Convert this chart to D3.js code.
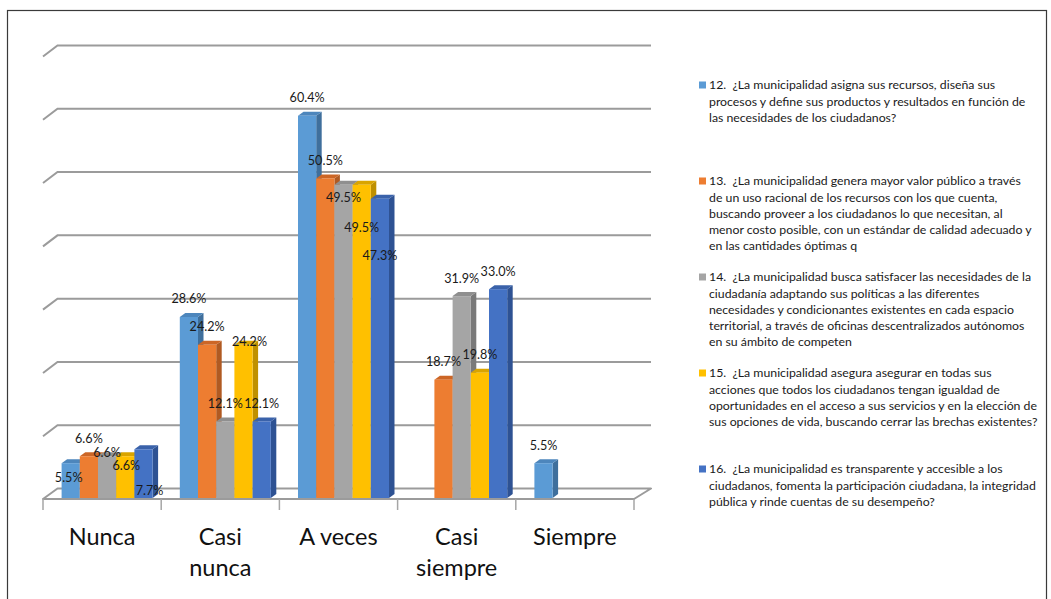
<!DOCTYPE html>
<html>
<head>
<meta charset="utf-8">
<script src="https://cdn.jsdelivr.net/npm/d3@7"></script>
<style>
  html, body { margin: 0; padding: 0; background: #ffffff; }
  svg { display: block; }
  text { white-space: pre; }
</style>
</head>
<body>
<script>
// ---------- data ----------
const categories = ["Nunca", "Casi nunca", "A veces", "Casi siempre", "Siempre"];
const categoryLines = [["Nunca"], ["Casi", "nunca"], ["A veces"], ["Casi", "siempre"], ["Siempre"]];

const s12 = [5.5, 28.6, 60.4, null, 5.5];
const s13 = [6.6, 24.2, 50.5, 18.7, null];
const s14 = [6.6, 12.1, 49.5, 31.9, null];
const s15 = [6.6, 24.2, 49.5, 19.8, null];
const s16 = [7.7, 12.1, 47.3, 33.0, null];

const seriesValues = [s12, s13, s14, s15, s16];

const legendLines = [
  ["12.  ¿La municipalidad asigna sus recursos, diseña sus",
   "procesos y define sus productos y resultados en función de",
   "las necesidades de los ciudadanos?"],
  ["13.  ¿La municipalidad genera mayor valor público a través",
   "de un uso racional de los recursos con los que cuenta,",
   "buscando proveer a los ciudadanos lo que necesitan, al",
   "menor costo posible, con un estándar de calidad adecuado y",
   "en las cantidades óptimas q"],
  ["14.  ¿La municipalidad busca satisfacer las necesidades de la",
   "ciudadanía adaptando sus políticas a las diferentes",
   "necesidades y condicionantes existentes en cada espacio",
   "territorial, a través de oficinas descentralizados autónomos",
   "en su ámbito de competen"],
  ["15.  ¿La municipalidad asegura asegurar en todas sus",
   "acciones que todos los ciudadanos tengan igualdad de",
   "oportunidades en el acceso a sus servicios y en la elección de",
   "sus opciones de vida, buscando cerrar las brechas existentes?"],
  ["16.  ¿La municipalidad es transparente y accesible a los",
   "ciudadanos, fomenta la participación ciudadana, la integridad",
   "pública y rinde cuentas de su desempeño?"]
];

const yTicks = [0, 10, 20, 30, 40, 50, 60, 70];

// ---------- styles / layout ----------
const frontColors = ["#5B9BD5", "#ED7D31", "#A5A5A5", "#FFC000", "#4472C4"];
const sideColors  = ["#3F6F9C", "#B05A22", "#7A7A7A", "#BF9000", "#2E5293"];
const topColors   = ["#4D86BC", "#CC6626", "#8F8F8F", "#D9A400", "#3A62AA"];

// Excel's data-label placement (nudges from the default "above the bar" spot), [series][category]
const labelNudgeY = [[32,0,0,0,0],[0,0,0,0,0],[14,0,31,0,0],[27,15,61,0,0],[59,0,75,0,0]];
const labelNudgeX = [[-2,0,0,0,0],[0,0,0,0,0],[0,0,0,0,0],[1,6,0,0,0],[6,0,0,0,0]];

const W = 1051, H = 599;
const FONT = "Lato, 'Liberation Sans', Arial, sans-serif";

const svg = d3.select("body").append("svg").attr("width", W).attr("height", H);

// chart border
svg.append("rect").attr("x", 7.5).attr("y", 10.5).attr("width", 1039).attr("height", 600)
  .attr("fill", "none").attr("stroke", "#3a3a3a").attr("stroke-width", 1.2);

// scales
const x = d3.scaleBand().domain(categories).range([43, 634]).paddingInner(0).paddingOuter(0);
const y = d3.scaleLinear().domain([0, 70]).range([498, 55]);
const inner = d3.scaleBand().domain(d3.range(seriesValues.length)).range([18.6, 18.6 + 91]);

const wallDx = 14.5, wallDy = 9.5;   // depth of floor / back wall
const barDx = 5.5, barDy = 4;        // depth of bars

// back wall gridlines
const grid = svg.append("g");
yTicks.forEach(t => {
  const yb = y(t) - wallDy;
  if (t > 0) {
    grid.append("path")
      .attr("d", `M43,${yb + 11}L${43 + wallDx},${yb}L651,${yb}`)
      .attr("fill", "none").attr("stroke", "#9b9b9b").attr("stroke-width", 2);
  }
});
// floor
const yf = y(0) + 1;
grid.append("path")
  .attr("d", `M43,${yf}L634,${yf}L651,${yf - 10.5}L${43 + wallDx},${yf - 10.5}Z`)
  .attr("fill", "none").attr("stroke", "#9b9b9b").attr("stroke-width", 2).attr("stroke-linejoin", "round");
// category tick marks
const edges = categories.map(c => x(c)).concat([x.range()[1]]);
grid.selectAll("line.tick").data(edges).enter().append("line")
  .attr("x1", d => d).attr("x2", d => d)
  .attr("y1", yf).attr("y2", yf + 11)
  .attr("stroke", "#a6a6a6").attr("stroke-width", 1.5);

// bars
const bars = svg.append("g");
categories.forEach((c, ci) => {
  seriesValues.forEach((vals, si) => {
    const v = vals[ci];
    if (v === null) return;
    const x0 = x(c) + inner(si), w = inner.bandwidth();
    const yt = y(v), yb = y(0);
    bars.append("path")
      .attr("d", `M${x0 + w},${yb}L${x0 + w + barDx},${yb - barDy}L${x0 + w + barDx},${yt - barDy}L${x0 + w},${yt}Z`)
      .attr("fill", sideColors[si]);
    bars.append("path")
      .attr("d", `M${x0},${yt}L${x0 + barDx},${yt - barDy}L${x0 + w + barDx},${yt - barDy}L${x0 + w},${yt}Z`)
      .attr("fill", topColors[si]);
    bars.append("rect")
      .attr("x", x0).attr("y", yt).attr("width", w).attr("height", yb - yt)
      .attr("fill", frontColors[si]);
  });
});

// data labels
const labels = svg.append("g").attr("font-family", FONT).attr("font-size", 12.6).attr("fill", "#1a1a1a");
categories.forEach((c, ci) => {
  seriesValues.forEach((vals, si) => {
    const v = vals[ci];
    if (v === null) return;
    const x0 = x(c) + inner(si), w = inner.bandwidth();
    labels.append("text")
      .attr("x", x0 + w / 2 + labelNudgeX[si][ci])
      .attr("y", y(v) - 18 + labelNudgeY[si][ci])
      .attr("dy", "0.35em")
      .attr("text-anchor", "middle")
      .text(d3.format(".1f")(v) + "%");
  });
});

// category labels
const catG = svg.append("g").attr("font-family", FONT).attr("font-size", 23.5).attr("fill", "#111");
categories.forEach((c, ci) => {
  const t = catG.append("text").attr("x", x(c) + x.bandwidth() / 2).attr("y", 545).attr("text-anchor", "middle");
  categoryLines[ci].forEach((ln, li) => {
    t.append("tspan").attr("x", x(c) + x.bandwidth() / 2).attr("dy", li === 0 ? 0 : 31).text(ln);
  });
});

// legend
const legY = d3.scaleBand().domain(d3.range(legendLines.length)).range([77, 557]);
const leg = svg.append("g").attr("font-family", FONT).attr("font-size", 12.3).attr("fill", "#1a1a1a");
legendLines.forEach((lines, si) => {
  const y0 = legY(si) + 8;
  leg.append("rect").attr("x", 699).attr("y", y0 - 3.5).attr("width", 7).attr("height", 7).attr("fill", frontColors[si]);
  const t = leg.append("text").attr("x", 709).attr("y", y0);
  lines.forEach((ln, li) => {
    t.append("tspan").attr("x", 709).attr("dy", li === 0 ? "0.35em" : 16.2).text(ln);
  });
});
</script>
</body>
</html>
